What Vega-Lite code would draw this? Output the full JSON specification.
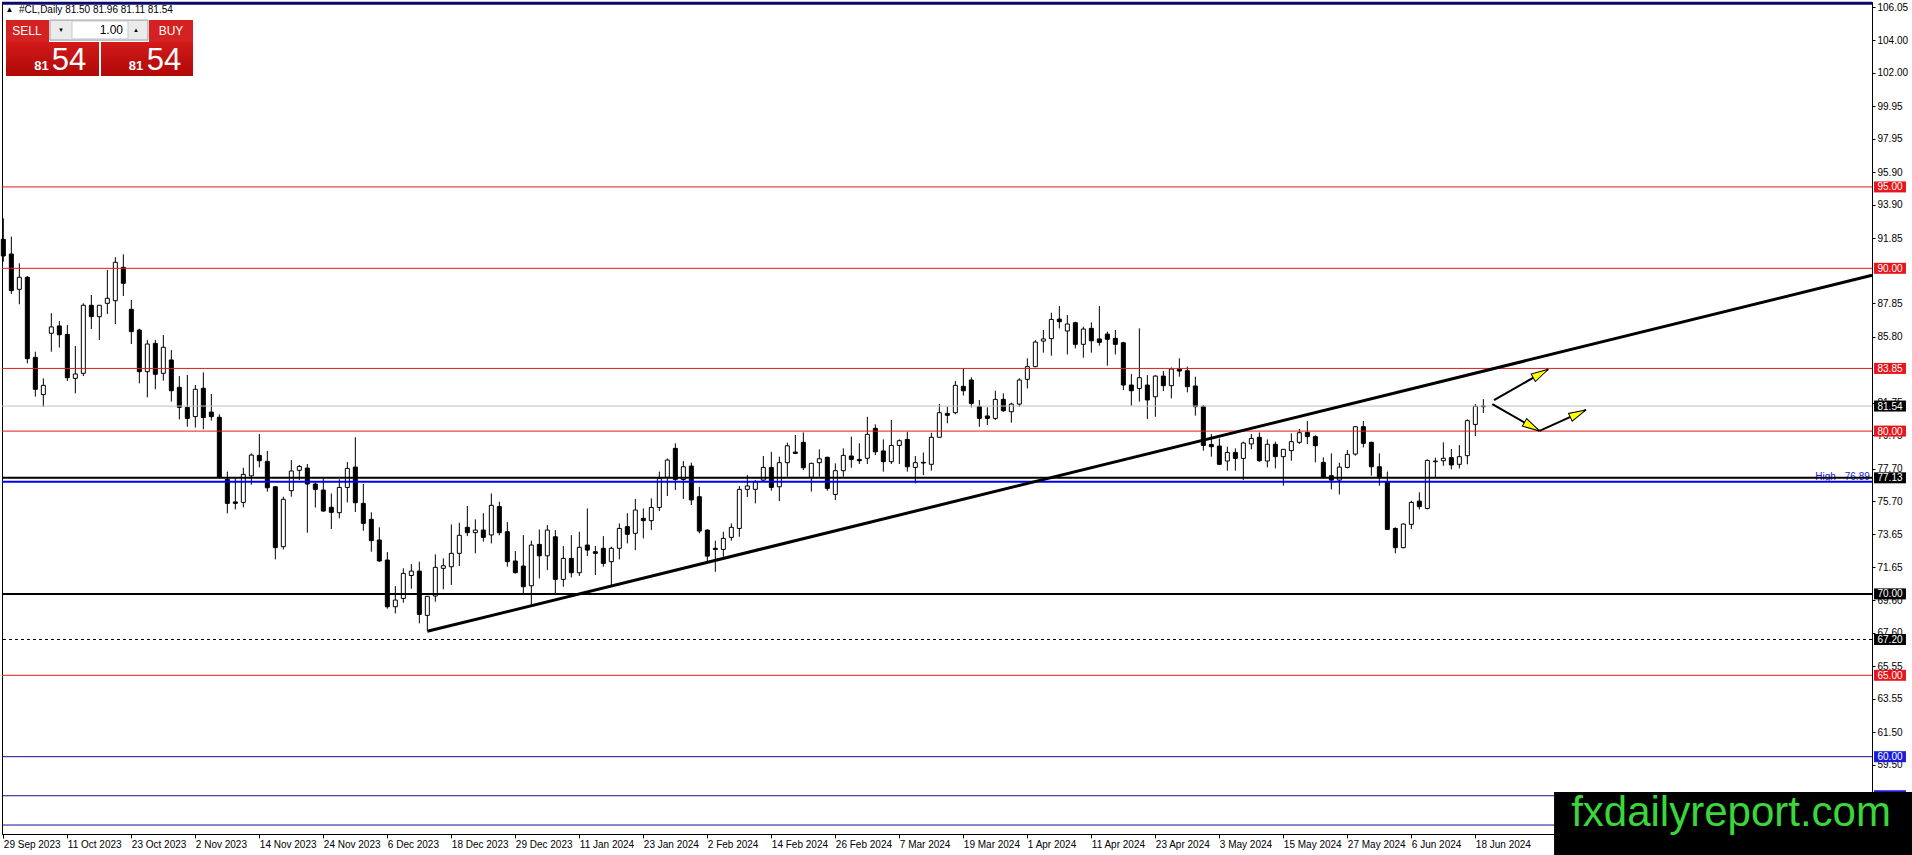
{
  "$schema": "https://vega.github.io/schema/vega-lite/v6.json",
  "width": 1870,
  "height": 832,
  "autosize": {"type": "none"},
  "padding": {"left": 2, "top": 2, "right": 40, "bottom": 21},
  "background": "#FFFFFF",
  "config": {
    "view": {"stroke": "#000000", "strokeWidth": 1},
    "font": "Liberation Sans",
    "axis": {"labelFont": "Liberation Sans", "labelFontSize": 10, "labelColor": "#000000", "domainColor": "#000000", "tickColor": "#000000", "grid": false, "labelOverlap": false, "labelBound": false, "labelFlush": false}
  },
  "data": {"values": [{}]},
  "datasets": {
    "ohlc": [
      {"i":0,"d":"2023-09-29","o":91.78,"h":93.07,"l":90.41,"c":90.76},
      {"i":1,"d":"2023-10-02","o":90.88,"h":91.95,"l":88.42,"c":88.63},
      {"i":2,"d":"2023-10-03","o":88.71,"h":90.31,"l":87.79,"c":89.45},
      {"i":3,"d":"2023-10-04","o":89.45,"h":89.53,"l":84.16,"c":84.45},
      {"i":4,"d":"2023-10-05","o":84.53,"h":84.88,"l":82.12,"c":82.57},
      {"i":5,"d":"2023-10-06","o":82.24,"h":83.24,"l":81.50,"c":82.81},
      {"i":6,"d":"2023-10-09","o":86.01,"h":87.24,"l":84.88,"c":86.40},
      {"i":7,"d":"2023-10-10","o":86.46,"h":86.76,"l":85.13,"c":85.92},
      {"i":8,"d":"2023-10-11","o":85.94,"h":86.52,"l":83.08,"c":83.28},
      {"i":9,"d":"2023-10-12","o":83.24,"h":85.23,"l":82.32,"c":83.51},
      {"i":10,"d":"2023-10-13","o":83.55,"h":87.85,"l":83.38,"c":87.73},
      {"i":11,"d":"2023-10-16","o":87.73,"h":88.36,"l":86.27,"c":87.03},
      {"i":12,"d":"2023-10-17","o":87.03,"h":87.73,"l":85.60,"c":87.73},
      {"i":13,"d":"2023-10-18","o":87.85,"h":89.90,"l":87.19,"c":88.16},
      {"i":14,"d":"2023-10-19","o":88.01,"h":90.68,"l":86.58,"c":90.37},
      {"i":15,"d":"2023-10-20","o":90.06,"h":90.86,"l":88.30,"c":89.08},
      {"i":16,"d":"2023-10-23","o":87.48,"h":88.05,"l":85.35,"c":86.11},
      {"i":17,"d":"2023-10-24","o":86.21,"h":86.29,"l":82.93,"c":83.65},
      {"i":18,"d":"2023-10-25","o":83.65,"h":85.60,"l":82.07,"c":85.35},
      {"i":19,"d":"2023-10-26","o":85.39,"h":85.60,"l":82.57,"c":83.49},
      {"i":20,"d":"2023-10-27","o":83.55,"h":85.90,"l":83.10,"c":85.15},
      {"i":21,"d":"2023-10-30","o":84.37,"h":84.98,"l":81.81,"c":82.48},
      {"i":22,"d":"2023-10-31","o":82.69,"h":83.38,"l":80.72,"c":81.46},
      {"i":23,"d":"2023-11-01","o":81.46,"h":83.45,"l":80.27,"c":80.78},
      {"i":24,"d":"2023-11-02","o":80.89,"h":82.83,"l":80.21,"c":82.57},
      {"i":25,"d":"2023-11-03","o":82.63,"h":83.61,"l":80.11,"c":80.83},
      {"i":26,"d":"2023-11-06","o":81.17,"h":82.28,"l":80.64,"c":80.89},
      {"i":27,"d":"2023-11-07","o":80.85,"h":81.03,"l":77.10,"c":77.16},
      {"i":28,"d":"2023-11-08","o":77.04,"h":77.51,"l":74.95,"c":75.56},
      {"i":29,"d":"2023-11-09","o":75.65,"h":77.10,"l":75.19,"c":75.56},
      {"i":30,"d":"2023-11-10","o":75.62,"h":77.75,"l":75.32,"c":77.34},
      {"i":31,"d":"2023-11-13","o":77.25,"h":78.63,"l":76.70,"c":78.53},
      {"i":32,"d":"2023-11-14","o":78.51,"h":79.82,"l":77.77,"c":78.18},
      {"i":33,"d":"2023-11-15","o":78.14,"h":78.78,"l":76.28,"c":76.52},
      {"i":34,"d":"2023-11-16","o":76.58,"h":76.63,"l":72.12,"c":72.84},
      {"i":35,"d":"2023-11-17","o":72.90,"h":75.97,"l":72.73,"c":75.81},
      {"i":36,"d":"2023-11-20","o":76.34,"h":78.22,"l":75.97,"c":77.55},
      {"i":37,"d":"2023-11-21","o":77.59,"h":77.92,"l":76.99,"c":77.83},
      {"i":38,"d":"2023-11-22","o":77.73,"h":77.98,"l":73.76,"c":76.75},
      {"i":39,"d":"2023-11-23","o":76.75,"h":76.89,"l":75.30,"c":76.42},
      {"i":40,"d":"2023-11-24","o":76.38,"h":77.10,"l":75.05,"c":75.09},
      {"i":41,"d":"2023-11-27","o":75.32,"h":76.17,"l":73.98,"c":75.01},
      {"i":42,"d":"2023-11-28","o":74.99,"h":77.04,"l":74.64,"c":76.54},
      {"i":43,"d":"2023-11-29","o":76.54,"h":78.10,"l":75.62,"c":77.71},
      {"i":44,"d":"2023-11-30","o":77.79,"h":79.62,"l":75.03,"c":75.60},
      {"i":45,"d":"2023-12-01","o":75.56,"h":76.75,"l":73.88,"c":74.33},
      {"i":46,"d":"2023-12-04","o":74.58,"h":75.01,"l":72.59,"c":73.27},
      {"i":47,"d":"2023-12-05","o":73.31,"h":74.09,"l":71.98,"c":72.02},
      {"i":48,"d":"2023-12-06","o":72.08,"h":72.57,"l":69.09,"c":69.21},
      {"i":49,"d":"2023-12-07","o":69.21,"h":70.48,"l":68.80,"c":69.62},
      {"i":50,"d":"2023-12-08","o":69.72,"h":71.57,"l":69.46,"c":71.26},
      {"i":51,"d":"2023-12-11","o":71.13,"h":71.83,"l":70.32,"c":71.40},
      {"i":52,"d":"2023-12-12","o":71.40,"h":71.98,"l":68.19,"c":68.74},
      {"i":53,"d":"2023-12-13","o":68.68,"h":69.87,"l":67.74,"c":69.85},
      {"i":54,"d":"2023-12-14","o":69.87,"h":72.43,"l":69.52,"c":71.63},
      {"i":55,"d":"2023-12-15","o":71.57,"h":72.18,"l":70.28,"c":71.73},
      {"i":56,"d":"2023-12-18","o":71.67,"h":74.27,"l":70.55,"c":72.49},
      {"i":57,"d":"2023-12-19","o":72.49,"h":74.37,"l":71.71,"c":73.60},
      {"i":58,"d":"2023-12-20","o":74.09,"h":75.40,"l":73.55,"c":73.76},
      {"i":59,"d":"2023-12-21","o":73.76,"h":74.58,"l":72.49,"c":73.92},
      {"i":60,"d":"2023-12-22","o":73.92,"h":74.95,"l":73.21,"c":73.47},
      {"i":61,"d":"2023-12-26","o":73.62,"h":76.17,"l":73.10,"c":75.44},
      {"i":62,"d":"2023-12-27","o":75.36,"h":75.66,"l":73.60,"c":73.76},
      {"i":63,"d":"2023-12-28","o":73.82,"h":74.41,"l":71.67,"c":71.98},
      {"i":64,"d":"2023-12-29","o":72.02,"h":72.63,"l":71.26,"c":71.30},
      {"i":65,"d":"2024-01-02","o":71.71,"h":73.61,"l":70.03,"c":70.44},
      {"i":66,"d":"2024-01-03","o":70.50,"h":73.27,"l":69.31,"c":73.00},
      {"i":67,"d":"2024-01-04","o":73.04,"h":73.96,"l":70.95,"c":72.34},
      {"i":68,"d":"2024-01-05","o":72.34,"h":74.23,"l":71.46,"c":73.92},
      {"i":69,"d":"2024-01-08","o":73.51,"h":73.92,"l":70.03,"c":70.89},
      {"i":70,"d":"2024-01-09","o":70.89,"h":72.94,"l":70.44,"c":72.18},
      {"i":71,"d":"2024-01-10","o":72.18,"h":73.61,"l":71.01,"c":71.30},
      {"i":72,"d":"2024-01-11","o":71.30,"h":73.82,"l":71.10,"c":72.86},
      {"i":73,"d":"2024-01-12","o":73.00,"h":75.25,"l":72.32,"c":72.69},
      {"i":74,"d":"2024-01-15","o":72.59,"h":72.94,"l":71.16,"c":72.49},
      {"i":75,"d":"2024-01-16","o":72.80,"h":73.55,"l":71.67,"c":71.87},
      {"i":76,"d":"2024-01-17","o":71.98,"h":72.90,"l":70.54,"c":72.80},
      {"i":77,"d":"2024-01-18","o":72.80,"h":74.33,"l":72.12,"c":74.02},
      {"i":78,"d":"2024-01-19","o":74.13,"h":74.95,"l":73.10,"c":73.66},
      {"i":79,"d":"2024-01-22","o":73.72,"h":75.83,"l":72.69,"c":75.15},
      {"i":80,"d":"2024-01-23","o":74.64,"h":75.25,"l":73.41,"c":74.50},
      {"i":81,"d":"2024-01-24","o":74.50,"h":75.87,"l":73.92,"c":75.31},
      {"i":82,"d":"2024-01-25","o":75.31,"h":77.51,"l":75.09,"c":77.10},
      {"i":83,"d":"2024-01-26","o":77.16,"h":78.32,"l":76.01,"c":78.22},
      {"i":84,"d":"2024-01-29","o":78.94,"h":79.25,"l":76.38,"c":77.03},
      {"i":85,"d":"2024-01-30","o":77.03,"h":78.16,"l":75.83,"c":77.81},
      {"i":86,"d":"2024-01-31","o":77.85,"h":78.06,"l":75.46,"c":75.77},
      {"i":87,"d":"2024-02-01","o":75.97,"h":76.58,"l":73.72,"c":73.86},
      {"i":88,"d":"2024-02-02","o":73.92,"h":73.96,"l":71.98,"c":72.32},
      {"i":89,"d":"2024-02-05","o":72.80,"h":73.27,"l":71.36,"c":72.73},
      {"i":90,"d":"2024-02-06","o":72.73,"h":73.82,"l":72.28,"c":73.41},
      {"i":91,"d":"2024-02-07","o":73.47,"h":74.33,"l":73.27,"c":74.09},
      {"i":92,"d":"2024-02-08","o":74.02,"h":76.63,"l":73.51,"c":76.42},
      {"i":93,"d":"2024-02-09","o":76.42,"h":77.30,"l":75.95,"c":76.63},
      {"i":94,"d":"2024-02-12","o":76.42,"h":76.99,"l":75.56,"c":76.89},
      {"i":95,"d":"2024-02-13","o":76.99,"h":78.47,"l":76.89,"c":77.77},
      {"i":96,"d":"2024-02-14","o":77.77,"h":78.73,"l":76.34,"c":76.54},
      {"i":97,"d":"2024-02-15","o":76.58,"h":78.43,"l":75.70,"c":78.06},
      {"i":98,"d":"2024-02-16","o":78.06,"h":79.29,"l":77.20,"c":79.10},
      {"i":99,"d":"2024-02-19","o":78.71,"h":79.76,"l":78.59,"c":78.63},
      {"i":100,"d":"2024-02-20","o":79.31,"h":79.92,"l":77.61,"c":77.75},
      {"i":101,"d":"2024-02-21","o":77.16,"h":78.06,"l":76.28,"c":78.02},
      {"i":102,"d":"2024-02-22","o":78.06,"h":78.88,"l":77.20,"c":78.30},
      {"i":103,"d":"2024-02-23","o":78.39,"h":78.43,"l":76.34,"c":76.48},
      {"i":104,"d":"2024-02-26","o":76.11,"h":78.02,"l":75.76,"c":77.57},
      {"i":105,"d":"2024-02-27","o":77.57,"h":78.94,"l":77.20,"c":78.51},
      {"i":106,"d":"2024-02-28","o":78.47,"h":79.66,"l":77.75,"c":78.26},
      {"i":107,"d":"2024-02-29","o":78.26,"h":79.25,"l":77.98,"c":78.18},
      {"i":108,"d":"2024-03-01","o":78.33,"h":80.88,"l":77.98,"c":79.80},
      {"i":109,"d":"2024-03-04","o":80.17,"h":80.41,"l":78.53,"c":78.73},
      {"i":110,"d":"2024-03-05","o":78.78,"h":79.49,"l":77.51,"c":78.12},
      {"i":111,"d":"2024-03-06","o":78.12,"h":80.68,"l":77.98,"c":79.12},
      {"i":112,"d":"2024-03-07","o":79.12,"h":79.49,"l":77.98,"c":79.41},
      {"i":113,"d":"2024-03-08","o":79.49,"h":79.96,"l":77.51,"c":77.81},
      {"i":114,"d":"2024-03-11","o":77.77,"h":78.47,"l":76.79,"c":78.06},
      {"i":115,"d":"2024-03-12","o":78.08,"h":78.69,"l":77.30,"c":78.04},
      {"i":116,"d":"2024-03-13","o":77.96,"h":79.90,"l":77.57,"c":79.62},
      {"i":117,"d":"2024-03-14","o":79.62,"h":81.66,"l":79.62,"c":81.13},
      {"i":118,"d":"2024-03-15","o":81.09,"h":81.50,"l":80.48,"c":80.97},
      {"i":119,"d":"2024-03-18","o":81.13,"h":83.08,"l":81.03,"c":82.81},
      {"i":120,"d":"2024-03-19","o":82.75,"h":83.85,"l":82.18,"c":82.48},
      {"i":121,"d":"2024-03-20","o":83.14,"h":83.30,"l":81.46,"c":81.70},
      {"i":122,"d":"2024-03-21","o":81.50,"h":81.91,"l":80.27,"c":80.78},
      {"i":123,"d":"2024-03-22","o":80.93,"h":81.46,"l":80.37,"c":80.78},
      {"i":124,"d":"2024-03-25","o":80.78,"h":82.48,"l":80.68,"c":81.95},
      {"i":125,"d":"2024-03-26","o":81.95,"h":82.32,"l":81.19,"c":81.25},
      {"i":126,"d":"2024-03-27","o":81.19,"h":81.75,"l":80.52,"c":81.66},
      {"i":127,"d":"2024-03-28","o":81.66,"h":83.24,"l":81.50,"c":83.14},
      {"i":128,"d":"2024-04-01","o":83.18,"h":84.47,"l":82.62,"c":83.96},
      {"i":129,"d":"2024-04-02","o":83.96,"h":85.59,"l":83.92,"c":85.47},
      {"i":130,"d":"2024-04-03","o":85.53,"h":86.21,"l":84.82,"c":85.66},
      {"i":131,"d":"2024-04-04","o":85.68,"h":87.27,"l":84.63,"c":86.86},
      {"i":132,"d":"2024-04-05","o":86.88,"h":87.68,"l":86.31,"c":86.72},
      {"i":133,"d":"2024-04-08","o":86.15,"h":87.13,"l":84.71,"c":86.58},
      {"i":134,"d":"2024-04-09","o":86.66,"h":86.72,"l":85.08,"c":85.33},
      {"i":135,"d":"2024-04-10","o":85.33,"h":86.41,"l":84.51,"c":86.27},
      {"i":136,"d":"2024-04-11","o":86.31,"h":86.68,"l":84.82,"c":85.55},
      {"i":137,"d":"2024-04-12","o":85.66,"h":87.68,"l":85.25,"c":85.45},
      {"i":138,"d":"2024-04-15","o":85.96,"h":86.11,"l":84.02,"c":85.64},
      {"i":139,"d":"2024-04-16","o":85.70,"h":86.21,"l":84.71,"c":85.33},
      {"i":140,"d":"2024-04-17","o":85.43,"h":85.49,"l":82.52,"c":82.83},
      {"i":141,"d":"2024-04-18","o":82.83,"h":83.51,"l":81.56,"c":82.48},
      {"i":142,"d":"2024-04-19","o":82.62,"h":86.31,"l":81.81,"c":83.28},
      {"i":143,"d":"2024-04-22","o":82.83,"h":83.44,"l":80.74,"c":81.91},
      {"i":144,"d":"2024-04-23","o":82.11,"h":83.44,"l":80.88,"c":83.38},
      {"i":145,"d":"2024-04-24","o":83.38,"h":83.69,"l":82.46,"c":82.79},
      {"i":146,"d":"2024-04-25","o":82.79,"h":83.91,"l":82.01,"c":83.81},
      {"i":147,"d":"2024-04-26","o":83.81,"h":84.47,"l":83.34,"c":83.69},
      {"i":148,"d":"2024-04-29","o":83.71,"h":83.96,"l":82.38,"c":82.73},
      {"i":149,"d":"2024-04-30","o":82.77,"h":83.34,"l":80.95,"c":81.50},
      {"i":150,"d":"2024-05-01","o":81.50,"h":81.60,"l":78.80,"c":79.12},
      {"i":151,"d":"2024-05-02","o":79.18,"h":79.82,"l":78.43,"c":79.04},
      {"i":152,"d":"2024-05-03","o":79.08,"h":79.55,"l":77.91,"c":77.96},
      {"i":153,"d":"2024-05-06","o":78.16,"h":79.04,"l":77.57,"c":78.69},
      {"i":154,"d":"2024-05-07","o":78.69,"h":78.94,"l":77.57,"c":78.32},
      {"i":155,"d":"2024-05-08","o":78.32,"h":79.35,"l":77.00,"c":79.27},
      {"i":156,"d":"2024-05-09","o":79.21,"h":79.82,"l":78.88,"c":79.55},
      {"i":157,"d":"2024-05-10","o":79.62,"h":79.92,"l":78.12,"c":78.18},
      {"i":158,"d":"2024-05-13","o":78.16,"h":79.49,"l":77.77,"c":79.19},
      {"i":159,"d":"2024-05-14","o":79.19,"h":79.35,"l":77.71,"c":78.43},
      {"i":160,"d":"2024-05-15","o":78.43,"h":78.88,"l":76.65,"c":78.88},
      {"i":161,"d":"2024-05-16","o":78.80,"h":79.86,"l":78.18,"c":79.35},
      {"i":162,"d":"2024-05-17","o":79.31,"h":80.13,"l":79.21,"c":79.90},
      {"i":163,"d":"2024-05-20","o":79.92,"h":80.62,"l":79.21,"c":79.66},
      {"i":164,"d":"2024-05-21","o":79.66,"h":79.74,"l":78.08,"c":79.10},
      {"i":165,"d":"2024-05-22","o":78.08,"h":78.39,"l":77.14,"c":77.14},
      {"i":166,"d":"2024-05-23","o":77.26,"h":78.63,"l":76.42,"c":76.99},
      {"i":167,"d":"2024-05-24","o":76.99,"h":78.06,"l":76.11,"c":77.79},
      {"i":168,"d":"2024-05-27","o":77.77,"h":78.84,"l":77.71,"c":78.57},
      {"i":169,"d":"2024-05-28","o":78.59,"h":80.31,"l":78.49,"c":80.27},
      {"i":170,"d":"2024-05-29","o":80.27,"h":80.62,"l":79.00,"c":79.25},
      {"i":171,"d":"2024-05-30","o":79.31,"h":79.35,"l":77.26,"c":77.81},
      {"i":172,"d":"2024-05-31","o":77.81,"h":78.63,"l":76.65,"c":77.14},
      {"i":173,"d":"2024-06-03","o":76.89,"h":77.51,"l":73.92,"c":73.96},
      {"i":174,"d":"2024-06-04","o":74.02,"h":74.09,"l":72.49,"c":72.84},
      {"i":175,"d":"2024-06-05","o":72.84,"h":74.33,"l":72.80,"c":74.29},
      {"i":176,"d":"2024-06-06","o":74.27,"h":75.72,"l":73.98,"c":75.62},
      {"i":177,"d":"2024-06-07","o":75.70,"h":76.24,"l":75.19,"c":75.36},
      {"i":178,"d":"2024-06-10","o":75.25,"h":78.26,"l":75.19,"c":78.20},
      {"i":179,"d":"2024-06-11","o":78.12,"h":78.37,"l":77.14,"c":78.16},
      {"i":180,"d":"2024-06-12","o":78.18,"h":79.31,"l":77.87,"c":78.33},
      {"i":181,"d":"2024-06-13","o":78.37,"h":78.90,"l":77.65,"c":77.92},
      {"i":182,"d":"2024-06-14","o":77.96,"h":79.14,"l":77.71,"c":78.43},
      {"i":183,"d":"2024-06-17","o":78.49,"h":80.72,"l":77.96,"c":80.64},
      {"i":184,"d":"2024-06-18","o":80.41,"h":81.66,"l":79.70,"c":81.52},
      {"i":185,"d":"2024-06-19","o":81.50,"h":81.96,"l":81.11,"c":81.54}
    ],
    "levels": [
      {"level":106.28,"kind":"top","boxed":false},
      {"level":95.00,"kind":"level","boxed":true},
      {"level":90.00,"kind":"level","boxed":true},
      {"level":83.85,"kind":"level","boxed":true},
      {"level":81.54,"kind":"bid","boxed":true},
      {"level":80.00,"kind":"level","boxed":true},
      {"level":77.13,"kind":"key","boxed":true},
      {"level":76.89,"kind":"high","boxed":false},
      {"level":70.00,"kind":"key","boxed":true},
      {"level":67.20,"kind":"dashed","boxed":true},
      {"level":65.00,"kind":"level","boxed":true},
      {"level":60.00,"kind":"lower","boxed":true},
      {"level":57.60,"kind":"lower","boxed":true},
      {"level":55.80,"kind":"lower","boxed":false}
    ],
    "trend": [
      {"x1":53,"y1":67.70,"x2":233.58,"y2":89.57}
    ],
    "arrows": [
      {"id":"a1","x1":186.33,"y1":81.91,"x2":193.12,"y2":83.80},
      {"id":"a2","x1":186.12,"y1":81.65,"x2":192.02,"y2":80.01},
      {"id":"a3","x1":192.02,"y1":80.01,"x2":197.83,"y2":81.30}
    ]
  },
  "layer": [
    {
      "data": {"name": "ohlc"},
      "mark": {"type": "rule", "color": "#000000", "strokeWidth": 1},
      "encoding": {
        "x": {"field": "i", "type": "quantitative", "title": null,
          "scale": {"domain": [-0.166, 233.58], "nice": false, "zero": false, "padding": 0},
          "axis": {"orient": "bottom", "title": null, "tickCount": 60, "values": [0,8,16,24,32,40,48,56,64,72,80,88,96,104,112,120,128,136,144,152,160,168,176,184],
            "labelExpr": "['29 Sep 2023','11 Oct 2023','23 Oct 2023','2 Nov 2023','14 Nov 2023','24 Nov 2023','6 Dec 2023','18 Dec 2023','29 Dec 2023','11 Jan 2024','23 Jan 2024','2 Feb 2024','14 Feb 2024','26 Feb 2024','7 Mar 2024','19 Mar 2024','1 Apr 2024','11 Apr 2024','23 Apr 2024','3 May 2024','15 May 2024','27 May 2024','6 Jun 2024','18 Jun 2024'][round(datum.value/8)]",
            "labelAlign": "left", "labelBaseline": "top", "labelDx": -2, "labelFlush": false, "labelOverlap": false, "labelBound": false,
            "tickSize": 4, "labelPadding": 1, "labelFontSize": 10, "grid": false, "domain": true, "ticks": true, "labels": true, "domainColor": "#000000", "tickColor": "#000000"}},
        "y": {"field": "l", "type": "quantitative", "title": null,
          "scale": {"domain": [55.25, 106.36], "nice": false, "zero": false, "padding": 0},
          "axis": {"orient": "right", "title": null, "tickCount": 60, "values": [106.05,104.00,102.00,99.95,97.95,95.90,93.90,91.85,87.85,85.80,81.75,79.75,77.70,75.70,73.65,71.65,69.60,67.60,65.55,63.55,61.50,59.50],
            "format": ".2f", "labelAlign": "left", "labelBaseline": "middle", "labelFlush": false, "labelOverlap": false, "labelBound": false,
            "tickSize": 3, "labelPadding": 2, "labelFontSize": 10, "grid": false, "domain": true, "ticks": true, "labels": true, "domainColor": "#000000", "tickColor": "#000000"}},
        "y2": {"field": "h"}
      }
    },
    {
      "data": {"name": "ohlc"},
      "mark": {"type": "bar", "size": 4, "stroke": "#000000", "strokeWidth": 1},
      "encoding": {
        "x": {"field": "i", "type": "quantitative", "title": null, "scale": {"domain": [-0.166, 233.58], "nice": false, "zero": false, "padding": 0}},
        "y": {"field": "o", "type": "quantitative", "title": null, "scale": {"domain": [55.25, 106.36], "nice": false, "zero": false, "padding": 0}},
        "y2": {"field": "c"},
        "fill": {"condition": {"test": "datum.c >= datum.o", "value": "#FFFFFF"}, "value": "#000000"}
      }
    },
    {
      "data": {"name": "levels"},
      "transform": [{"filter": "datum.kind == 'level'"}],
      "mark": {"type": "rule", "color": "#E01B1B", "strokeWidth": 1},
      "encoding": {"y": {"field": "level", "type": "quantitative", "title": null, "scale": {"domain": [55.25, 106.36], "nice": false, "zero": false, "padding": 0}}}
    },
    {
      "data": {"name": "levels"},
      "transform": [{"filter": "datum.kind == 'bid'"}],
      "mark": {"type": "rule", "color": "#C0C0C0", "strokeWidth": 1},
      "encoding": {"y": {"field": "level", "type": "quantitative", "title": null, "scale": {"domain": [55.25, 106.36], "nice": false, "zero": false, "padding": 0}}}
    },
    {
      "data": {"name": "levels"},
      "transform": [{"filter": "datum.kind == 'lower'"}],
      "mark": {"type": "rule", "color": "#10108C", "strokeWidth": 1},
      "encoding": {"y": {"field": "level", "type": "quantitative", "title": null, "scale": {"domain": [55.25, 106.36], "nice": false, "zero": false, "padding": 0}}}
    },
    {
      "data": {"name": "levels"},
      "transform": [{"filter": "datum.kind == 'top'"}],
      "mark": {"type": "rule", "color": "#0A0A6E", "strokeWidth": 3},
      "encoding": {"y": {"field": "level", "type": "quantitative", "title": null, "scale": {"domain": [55.25, 106.36], "nice": false, "zero": false, "padding": 0}}}
    },
    {
      "data": {"name": "levels"},
      "transform": [{"filter": "datum.kind == 'dashed'"}],
      "mark": {"type": "rule", "color": "#000000", "strokeWidth": 1, "strokeDash": [3, 3]},
      "encoding": {"y": {"field": "level", "type": "quantitative", "title": null, "scale": {"domain": [55.25, 106.36], "nice": false, "zero": false, "padding": 0}}}
    },
    {
      "mark": {"type": "text", "text": "High - 76.89", "color": "#2020E8", "fontSize": 10, "font": "Liberation Sans", "align": "right", "baseline": "alphabetic", "dy": -2},
      "encoding": {
        "x": {"datum": 233.3, "type": "quantitative", "title": null, "scale": {"domain": [-0.166, 233.58], "nice": false, "zero": false, "padding": 0}},
        "y": {"datum": 76.89, "type": "quantitative", "title": null, "scale": {"domain": [55.25, 106.36], "nice": false, "zero": false, "padding": 0}}
      }
    },
    {
      "data": {"name": "levels"},
      "transform": [{"filter": "datum.kind == 'high'"}],
      "mark": {"type": "rule", "color": "#0000F0", "strokeWidth": 2},
      "encoding": {"y": {"field": "level", "type": "quantitative", "title": null, "scale": {"domain": [55.25, 106.36], "nice": false, "zero": false, "padding": 0}}}
    },
    {
      "data": {"name": "levels"},
      "transform": [{"filter": "datum.kind == 'key'"}],
      "mark": {"type": "rule", "color": "#000000", "strokeWidth": 2},
      "encoding": {"y": {"field": "level", "type": "quantitative", "title": null, "scale": {"domain": [55.25, 106.36], "nice": false, "zero": false, "padding": 0}}}
    },
    {
      "data": {"name": "trend"},
      "mark": {"type": "rule", "color": "#000000", "strokeWidth": 3},
      "encoding": {
        "x": {"field": "x1", "type": "quantitative", "title": null, "scale": {"domain": [-0.166, 233.58], "nice": false, "zero": false, "padding": 0}},
        "y": {"field": "y1", "type": "quantitative", "title": null, "scale": {"domain": [55.25, 106.36], "nice": false, "zero": false, "padding": 0}},
        "x2": {"field": "x2"},
        "y2": {"field": "y2"}
      }
    },
    {
      "data": {"name": "arrows"},
      "mark": {"type": "rule", "color": "#000000", "strokeWidth": 2},
      "encoding": {
        "x": {"field": "x1", "type": "quantitative", "title": null, "scale": {"domain": [-0.166, 233.58], "nice": false, "zero": false, "padding": 0}},
        "y": {"field": "y1", "type": "quantitative", "title": null, "scale": {"domain": [55.25, 106.36], "nice": false, "zero": false, "padding": 0}},
        "x2": {"field": "x2"},
        "y2": {"field": "y2"}
      }
    },
    {
      "data": {"name": "arrows"},
      "transform": [{"filter": "datum.id == 'a1'"}],
      "mark": {"type": "point", "shape": "M0,0L-2,-0.5L-2,0.5Z", "size": 300, "filled": true, "fill": "#FFFF00", "stroke": "#000000", "strokeWidth": 1, "opacity": 1, "angle": 330.5},
      "encoding": {
        "x": {"field": "x2", "type": "quantitative", "title": null, "scale": {"domain": [-0.166, 233.58], "nice": false, "zero": false, "padding": 0}},
        "y": {"field": "y2", "type": "quantitative", "title": null, "scale": {"domain": [55.25, 106.36], "nice": false, "zero": false, "padding": 0}}
      }
    },
    {
      "data": {"name": "arrows"},
      "transform": [{"filter": "datum.id == 'a2'"}],
      "mark": {"type": "point", "shape": "M0,0L-2,-0.5L-2,0.5Z", "size": 300, "filled": true, "fill": "#FFFF00", "stroke": "#000000", "strokeWidth": 1, "opacity": 1, "angle": 29.6},
      "encoding": {
        "x": {"field": "x2", "type": "quantitative", "title": null, "scale": {"domain": [-0.166, 233.58], "nice": false, "zero": false, "padding": 0}},
        "y": {"field": "y2", "type": "quantitative", "title": null, "scale": {"domain": [55.25, 106.36], "nice": false, "zero": false, "padding": 0}}
      }
    },
    {
      "data": {"name": "arrows"},
      "transform": [{"filter": "datum.id == 'a3'"}],
      "mark": {"type": "point", "shape": "M0,0L-2,-0.5L-2,0.5Z", "size": 300, "filled": true, "fill": "#FFFF00", "stroke": "#000000", "strokeWidth": 1, "opacity": 1, "angle": 334.7},
      "encoding": {
        "x": {"field": "x2", "type": "quantitative", "title": null, "scale": {"domain": [-0.166, 233.58], "nice": false, "zero": false, "padding": 0}},
        "y": {"field": "y2", "type": "quantitative", "title": null, "scale": {"domain": [55.25, 106.36], "nice": false, "zero": false, "padding": 0}}
      }
    },
    {
      "data": {"name": "levels"},
      "transform": [{"filter": "datum.boxed"}],
      "mark": {"type": "point", "shape": "M-1.45,-0.5L1.45,-0.5L1.45,0.5L-1.45,0.5Z", "size": 484, "filled": true, "opacity": 1, "strokeWidth": 0},
      "encoding": {
        "x": {"datum": 235.83, "type": "quantitative", "title": null, "scale": {"domain": [-0.166, 233.58], "nice": false, "zero": false, "padding": 0}},
        "y": {"field": "level", "type": "quantitative", "title": null, "scale": {"domain": [55.25, 106.36], "nice": false, "zero": false, "padding": 0}},
        "color": {"field": "kind", "type": "nominal", "legend": null,
          "scale": {"domain": ["level", "bid", "key", "dashed", "lower"], "range": ["#E8141A", "#000000", "#000000", "#000000", "#1A1AE0"]}}
      }
    },
    {
      "data": {"name": "levels"},
      "transform": [{"filter": "datum.boxed && datum.level > 58"}],
      "mark": {"type": "text", "color": "#FFFFFF", "fontSize": 10, "font": "Liberation Sans", "align": "center", "baseline": "middle", "dy": 0.5},
      "encoding": {
        "x": {"datum": 235.83, "type": "quantitative", "title": null, "scale": {"domain": [-0.166, 233.58], "nice": false, "zero": false, "padding": 0}},
        "y": {"field": "level", "type": "quantitative", "title": null, "scale": {"domain": [55.25, 106.36], "nice": false, "zero": false, "padding": 0}},
        "text": {"field": "level", "type": "quantitative", "format": ".2f"}
      }
    },
    {
      "mark": {"type": "text", "text": "▲", "color": "#000000", "fontSize": 8, "align": "center", "baseline": "middle"},
      "encoding": {
        "x": {"datum": 0.77, "type": "quantitative", "title": null, "scale": {"domain": [-0.166, 233.58], "nice": false, "zero": false, "padding": 0}},
        "y": {"datum": 105.84, "type": "quantitative", "title": null, "scale": {"domain": [55.25, 106.36], "nice": false, "zero": false, "padding": 0}}
      }
    },
    {
      "mark": {"type": "text", "text": "#CL,Daily  81.50 81.96 81.11 81.54", "color": "#000000", "fontSize": 10, "font": "Liberation Sans", "align": "left", "baseline": "middle"},
      "encoding": {
        "x": {"datum": 1.96, "type": "quantitative", "title": null, "scale": {"domain": [-0.166, 233.58], "nice": false, "zero": false, "padding": 0}},
        "y": {"datum": 105.84, "type": "quantitative", "title": null, "scale": {"domain": [55.25, 106.36], "nice": false, "zero": false, "padding": 0}}
      }
    },
    {
      "mark": {"type": "rect", "fill": "#D42222"},
      "encoding": {
        "x": {"datum": 0.334, "type": "quantitative", "title": null, "scale": {"domain": [-0.166, 233.58], "nice": false, "zero": false, "padding": 0}},
        "x2": {"datum": 5.709},
        "y": {"datum": 105.25, "type": "quantitative", "title": null, "scale": {"domain": [55.25, 106.36], "nice": false, "zero": false, "padding": 0}},
        "y2": {"datum": 103.90}
      }
    },
    {
      "mark": {"type": "rect", "fill": "#D42222"},
      "encoding": {
        "x": {"datum": 18.21, "type": "quantitative", "title": null, "scale": {"domain": [-0.166, 233.58], "nice": false, "zero": false, "padding": 0}},
        "x2": {"datum": 23.71},
        "y": {"datum": 105.25, "type": "quantitative", "title": null, "scale": {"domain": [55.25, 106.36], "nice": false, "zero": false, "padding": 0}},
        "y2": {"datum": 103.90}
      }
    },
    {
      "mark": {"type": "rect", "fill": {"gradient": "linear", "x1": 0, "y1": 0, "x2": 0, "y2": 1, "stops": [{"offset": 0, "color": "#D21A1A"}, {"offset": 1, "color": "#B00808"}]}},
      "encoding": {
        "x": {"datum": 0.334, "type": "quantitative", "title": null, "scale": {"domain": [-0.166, 233.58], "nice": false, "zero": false, "padding": 0}},
        "x2": {"datum": 11.96},
        "y": {"datum": 103.90, "type": "quantitative", "title": null, "scale": {"domain": [55.25, 106.36], "nice": false, "zero": false, "padding": 0}},
        "y2": {"datum": 101.81}
      }
    },
    {
      "mark": {"type": "rect", "fill": {"gradient": "linear", "x1": 0, "y1": 0, "x2": 0, "y2": 1, "stops": [{"offset": 0, "color": "#D21A1A"}, {"offset": 1, "color": "#B00808"}]}},
      "encoding": {
        "x": {"datum": 12.21, "type": "quantitative", "title": null, "scale": {"domain": [-0.166, 233.58], "nice": false, "zero": false, "padding": 0}},
        "x2": {"datum": 23.71},
        "y": {"datum": 103.90, "type": "quantitative", "title": null, "scale": {"domain": [55.25, 106.36], "nice": false, "zero": false, "padding": 0}},
        "y2": {"datum": 101.81}
      }
    },
    {
      "mark": {"type": "rect", "fill": "#EBEBEB", "stroke": "#9A9A9A", "strokeWidth": 1},
      "encoding": {
        "x": {"datum": 5.83, "type": "quantitative", "title": null, "scale": {"domain": [-0.166, 233.58], "nice": false, "zero": false, "padding": 0}},
        "x2": {"datum": 18.08},
        "y": {"datum": 105.25, "type": "quantitative", "title": null, "scale": {"domain": [55.25, 106.36], "nice": false, "zero": false, "padding": 0}},
        "y2": {"datum": 104.02}
      }
    },
    {
      "mark": {"type": "rect", "fill": "#FFFFFF", "stroke": "#C8C8C8", "strokeWidth": 1},
      "encoding": {
        "x": {"datum": 8.58, "type": "quantitative", "title": null, "scale": {"domain": [-0.166, 233.58], "nice": false, "zero": false, "padding": 0}},
        "x2": {"datum": 15.58},
        "y": {"datum": 105.19, "type": "quantitative", "title": null, "scale": {"domain": [55.25, 106.36], "nice": false, "zero": false, "padding": 0}},
        "y2": {"datum": 104.09}
      }
    },
    {
      "mark": {"type": "text", "text": "SELL", "color": "#FFFFFF", "fontSize": 12, "font": "Liberation Sans", "align": "center", "baseline": "middle"},
      "encoding": {
        "x": {"datum": 2.96, "type": "quantitative", "title": null, "scale": {"domain": [-0.166, 233.58], "nice": false, "zero": false, "padding": 0}},
        "y": {"datum": 104.58, "type": "quantitative", "title": null, "scale": {"domain": [55.25, 106.36], "nice": false, "zero": false, "padding": 0}}
      }
    },
    {
      "mark": {"type": "text", "text": "BUY", "color": "#FFFFFF", "fontSize": 12, "font": "Liberation Sans", "align": "center", "baseline": "middle"},
      "encoding": {
        "x": {"datum": 20.96, "type": "quantitative", "title": null, "scale": {"domain": [-0.166, 233.58], "nice": false, "zero": false, "padding": 0}},
        "y": {"datum": 104.58, "type": "quantitative", "title": null, "scale": {"domain": [55.25, 106.36], "nice": false, "zero": false, "padding": 0}}
      }
    },
    {
      "mark": {"type": "text", "text": "1.00", "color": "#000000", "fontSize": 12, "font": "Liberation Sans", "align": "right", "baseline": "middle"},
      "encoding": {
        "x": {"datum": 14.96, "type": "quantitative", "title": null, "scale": {"domain": [-0.166, 233.58], "nice": false, "zero": false, "padding": 0}},
        "y": {"datum": 104.64, "type": "quantitative", "title": null, "scale": {"domain": [55.25, 106.36], "nice": false, "zero": false, "padding": 0}}
      }
    },
    {
      "mark": {"type": "text", "text": "▼", "color": "#000000", "fontSize": 6, "align": "center", "baseline": "middle"},
      "encoding": {
        "x": {"datum": 7.21, "type": "quantitative", "title": null, "scale": {"domain": [-0.166, 233.58], "nice": false, "zero": false, "padding": 0}},
        "y": {"datum": 104.64, "type": "quantitative", "title": null, "scale": {"domain": [55.25, 106.36], "nice": false, "zero": false, "padding": 0}}
      }
    },
    {
      "mark": {"type": "text", "text": "▲", "color": "#000000", "fontSize": 6, "align": "center", "baseline": "middle"},
      "encoding": {
        "x": {"datum": 16.58, "type": "quantitative", "title": null, "scale": {"domain": [-0.166, 233.58], "nice": false, "zero": false, "padding": 0}},
        "y": {"datum": 104.64, "type": "quantitative", "title": null, "scale": {"domain": [55.25, 106.36], "nice": false, "zero": false, "padding": 0}}
      }
    },
    {
      "mark": {"type": "text", "text": "81", "color": "#FFFFFF", "fontSize": 13, "fontWeight": "bold", "font": "Liberation Sans", "align": "center", "baseline": "alphabetic"},
      "encoding": {
        "x": {"datum": 4.77, "type": "quantitative", "title": null, "scale": {"domain": [-0.166, 233.58], "nice": false, "zero": false, "padding": 0}},
        "y": {"datum": 102.18, "type": "quantitative", "title": null, "scale": {"domain": [55.25, 106.36], "nice": false, "zero": false, "padding": 0}}
      }
    },
    {
      "mark": {"type": "text", "text": "54", "color": "#FFFFFF", "fontSize": 31, "font": "Liberation Sans", "align": "center", "baseline": "alphabetic"},
      "encoding": {
        "x": {"datum": 8.21, "type": "quantitative", "title": null, "scale": {"domain": [-0.166, 233.58], "nice": false, "zero": false, "padding": 0}},
        "y": {"datum": 102.18, "type": "quantitative", "title": null, "scale": {"domain": [55.25, 106.36], "nice": false, "zero": false, "padding": 0}}
      }
    },
    {
      "mark": {"type": "text", "text": "81", "color": "#FFFFFF", "fontSize": 13, "fontWeight": "bold", "font": "Liberation Sans", "align": "center", "baseline": "alphabetic"},
      "encoding": {
        "x": {"datum": 16.58, "type": "quantitative", "title": null, "scale": {"domain": [-0.166, 233.58], "nice": false, "zero": false, "padding": 0}},
        "y": {"datum": 102.18, "type": "quantitative", "title": null, "scale": {"domain": [55.25, 106.36], "nice": false, "zero": false, "padding": 0}}
      }
    },
    {
      "mark": {"type": "text", "text": "54", "color": "#FFFFFF", "fontSize": 31, "font": "Liberation Sans", "align": "center", "baseline": "alphabetic"},
      "encoding": {
        "x": {"datum": 20.08, "type": "quantitative", "title": null, "scale": {"domain": [-0.166, 233.58], "nice": false, "zero": false, "padding": 0}},
        "y": {"datum": 102.18, "type": "quantitative", "title": null, "scale": {"domain": [55.25, 106.36], "nice": false, "zero": false, "padding": 0}}
      }
    },
    {
      "mark": {"type": "rect", "fill": "#000000"},
      "encoding": {
        "x": {"datum": 193.84, "type": "quantitative", "title": null, "scale": {"domain": [-0.166, 233.58], "nice": false, "zero": false, "padding": 0}},
        "x2": {"datum": 238.58},
        "y": {"datum": 57.83, "type": "quantitative", "title": null, "scale": {"domain": [55.25, 106.36], "nice": false, "zero": false, "padding": 0}},
        "y2": {"datum": 53.96}
      }
    },
    {
      "mark": {"type": "text", "text": "fxdailyreport.com", "color": "#3BD63B", "fontSize": 42, "font": "Liberation Sans", "align": "center", "baseline": "alphabetic"},
      "encoding": {
        "x": {"datum": 215.96, "type": "quantitative", "title": null, "scale": {"domain": [-0.166, 233.58], "nice": false, "zero": false, "padding": 0}},
        "y": {"datum": 55.77, "type": "quantitative", "title": null, "scale": {"domain": [55.25, 106.36], "nice": false, "zero": false, "padding": 0}}
      }
    }
  ]
}
